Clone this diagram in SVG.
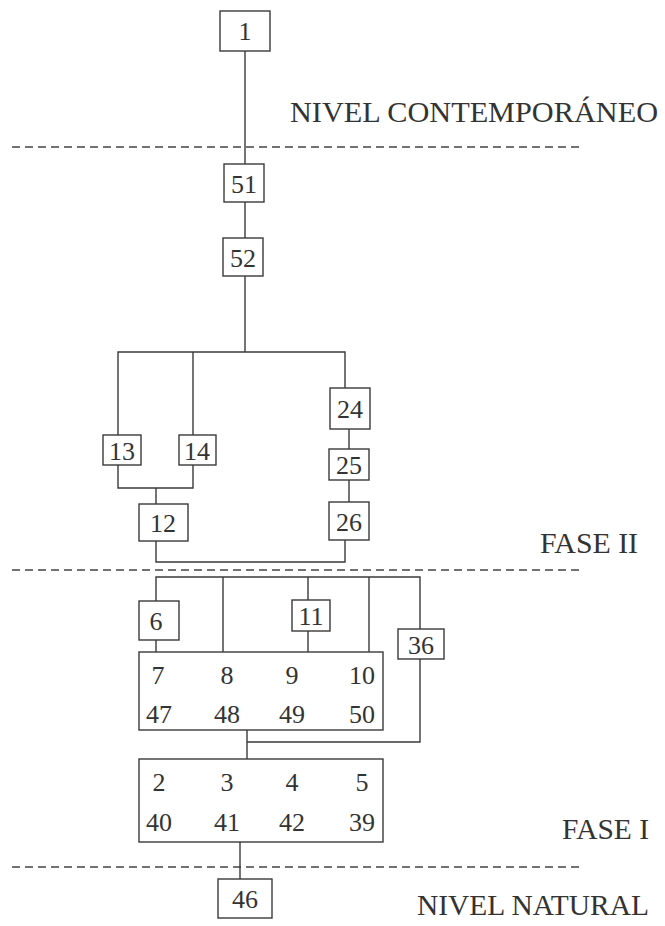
<svg xmlns="http://www.w3.org/2000/svg" width="665" height="926" viewBox="0 0 665 926">
<style>
.b{fill:#fff;stroke:#3a3a3a;stroke-width:1.4}
.c{fill:none;stroke:#3a3a3a;stroke-width:1.4}
.d{fill:none;stroke:#444;stroke-width:1.3;stroke-dasharray:8 5}
.t{font-family:"Liberation Serif","Times New Roman",serif;font-size:26px;fill:#333;text-anchor:middle}
.l{font-family:"Liberation Serif","Times New Roman",serif;font-size:30px;fill:#333}
</style>
<rect width="665" height="926" fill="#fff"/>
<g id="levels">
<line class="d" x1="12" y1="147" x2="583" y2="147"/>
<line class="d" x1="12" y1="570" x2="583" y2="570"/>
<line class="d" x1="12" y1="867" x2="583" y2="867"/>
<text class="l" x="290" y="122" textLength="368" lengthAdjust="spacingAndGlyphs">NIVEL CONTEMPORÁNEO</text>
<text class="l" x="540" y="553" textLength="98" lengthAdjust="spacingAndGlyphs">FASE II</text>
<text class="l" x="562" y="839" textLength="87" lengthAdjust="spacingAndGlyphs">FASE I</text>
<text class="l" x="417" y="915" textLength="232" lengthAdjust="spacingAndGlyphs">NIVEL NATURAL</text>
</g>
<g id="connectors">
<polyline class="c" points="245,51 245,164"/>
<polyline class="c" points="245,202 245,238"/>
<polyline class="c" points="245,276 245,352"/>
<polyline class="c" points="118,435 118,352 345,352 345,388"/>
<polyline class="c" points="193,352 193,435"/>
<polyline class="c" points="349,429 349,449"/>
<polyline class="c" points="349,480 349,502"/>
<polyline class="c" points="118,465 118,488 193,488 193,465"/>
<polyline class="c" points="156,488 156,504"/>
<polyline class="c" points="156,541 156,562 345,562 345,540"/>
<polyline class="c" points="156,601 156,577 420,577 420,629"/>
<polyline class="c" points="156,640 156,652"/>
<polyline class="c" points="223,577 223,652"/>
<polyline class="c" points="308,577 308,600"/>
<polyline class="c" points="308,631 308,652"/>
<polyline class="c" points="369,577 369,652"/>
<polyline class="c" points="420,659 420,742 247,742"/>
<polyline class="c" points="247,730 247,759"/>
<polyline class="c" points="240,842 240,879"/>
</g>
<g id="n1"><rect class="b" x="220" y="11" width="50" height="40"/><text class="t" x="245" y="40">1</text></g>
<g id="n51"><rect class="b" x="224" y="164" width="40" height="38"/><text class="t" x="244" y="193">51</text></g>
<g id="n52"><rect class="b" x="223" y="238" width="40" height="38"/><text class="t" x="243" y="267">52</text></g>
<g id="n13"><rect class="b" x="103" y="435" width="38" height="30"/><text class="t" x="122" y="460">13</text></g>
<g id="n14"><rect class="b" x="179" y="435" width="37" height="30"/><text class="t" x="197" y="460">14</text></g>
<g id="n24"><rect class="b" x="330" y="388" width="40" height="41"/><text class="t" x="350" y="418">24</text></g>
<g id="n25"><rect class="b" x="329" y="449" width="40" height="31"/><text class="t" x="349" y="474">25</text></g>
<g id="n26"><rect class="b" x="329" y="502" width="40" height="38"/><text class="t" x="349" y="531">26</text></g>
<g id="n12"><rect class="b" x="139" y="504" width="49" height="37"/><text class="t" x="163" y="532">12</text></g>
<g id="n6"><rect class="b" x="139" y="601" width="40" height="39"/><text class="t" x="156" y="630">6</text></g>
<g id="n11"><rect class="b" x="292" y="600" width="38" height="31"/><text class="t" x="311" y="625">11</text></g>
<g id="n36"><rect class="b" x="398" y="629" width="46" height="30"/><text class="t" x="421" y="654">36</text></g>
<g id="g7_50"><rect class="b" x="139" y="652" width="244" height="78"/>
<text class="t" x="158" y="684">7</text><text class="t" x="227" y="684">8</text><text class="t" x="292" y="684">9</text><text class="t" x="362" y="684">10</text>
<text class="t" x="159" y="723">47</text><text class="t" x="227" y="723">48</text><text class="t" x="292" y="723">49</text><text class="t" x="362" y="723">50</text></g>
<g id="g2_39"><rect class="b" x="139" y="759" width="244" height="83"/>
<text class="t" x="159" y="791">2</text><text class="t" x="227" y="791">3</text><text class="t" x="292" y="791">4</text><text class="t" x="362" y="791">5</text>
<text class="t" x="159" y="831">40</text><text class="t" x="227" y="831">41</text><text class="t" x="292" y="831">42</text><text class="t" x="362" y="831">39</text></g>
<g id="n46"><rect class="b" x="218" y="879" width="54" height="39"/><text class="t" x="245" y="908">46</text></g>
</svg>
